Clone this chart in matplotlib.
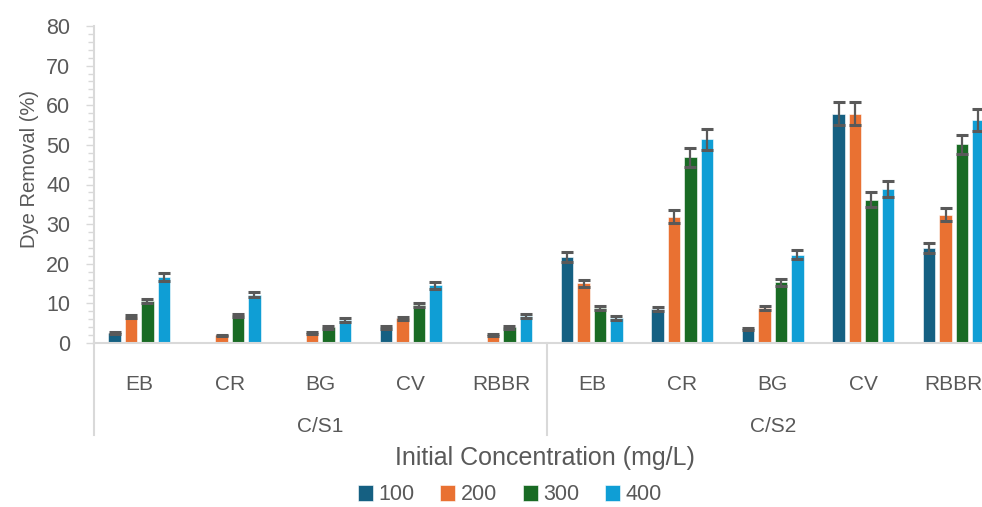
import numpy as np
import matplotlib.pyplot as plt
import matplotlib.transforms as mtransforms
from matplotlib.ticker import MultipleLocator

# dye removal (%) per dye, for the two systems
dyes = ["EB", "CR", "BG", "CV", "RBBR", "EB", "CR", "BG", "CV", "RBBR"]
systems = ["C/S1", "C/S2"]
concs = ["100", "200", "300", "400"]

val_100 = [2.5, 0.0, 0.0, 4.0, 0.0, 21.7, 8.6, 3.5, 57.9, 24.0]
val_200 = [6.6, 1.9, 2.4, 6.2, 2.1, 15.1, 31.9, 8.9, 57.8, 32.4]
val_300 = [10.6, 7.0, 4.0, 9.5, 4.0, 8.9, 46.9, 15.3, 36.1, 50.1]
val_400 = [16.7, 12.2, 5.8, 14.6, 6.7, 6.3, 51.4, 22.3, 38.8, 56.2]

err_100 = [0.3, 0.0, 0.0, 0.35, 0.0, 1.15, 0.45, 0.2, 2.85, 1.3]
err_200 = [0.4, 0.2, 0.25, 0.45, 0.25, 0.85, 1.7, 0.5, 2.9, 1.7]
err_300 = [0.6, 0.4, 0.35, 0.5, 0.4, 0.55, 2.4, 0.85, 1.9, 2.5]
err_400 = [1.0, 0.7, 0.4, 0.9, 0.5, 0.4, 2.6, 1.2, 2.0, 2.8]

colors = ["#156082", "#E97132", "#196B24", "#0F9ED5"]
grey = "#595959"
axis_grey = "#D9D9D9"
font = ["Liberation Sans", "DejaVu Sans"]

fig = plt.figure(figsize=(9.82, 5.07), dpi=100)
ax = fig.add_axes([94 / 982, (507 - 343) / 507, 905 / 982, 317 / 507])

x = np.arange(len(dyes))
pitch, width = 0.182, 0.141
series = [(val_100, err_100), (val_200, err_200), (val_300, err_300), (val_400, err_400)]
for i, (vals, errs) in enumerate(series):
    xs = x + (i - 1.5) * pitch
    v = np.array(vals)
    e = np.array(errs)
    ax.bar(xs, v, width, color=colors[i], label=concs[i], edgecolor="white",
           linewidth=0.4, zorder=2)
    m = v > 0
    ax.errorbar(xs[m], v[m], yerr=e[m], fmt="none", ecolor=grey, elinewidth=1.6,
                capsize=4.5, capthick=2.2, zorder=3)

ax.set_xlim(-0.5, 9.5)
ax.set_ylim(0, 80)
ax.yaxis.set_major_locator(MultipleLocator(10))
ax.yaxis.set_minor_locator(MultipleLocator(2))
ax.tick_params(axis="y", which="major", length=6, width=1, color=axis_grey,
               labelsize=15.5, labelcolor=grey, pad=11)
ax.tick_params(axis="y", which="minor", length=4, width=1, color=axis_grey)
for lab in ax.get_yticklabels():
    lab.set_family(font)
ax.set_xticks([])
for s in ["top", "right"]:
    ax.spines[s].set_visible(False)
for s in ["left", "bottom"]:
    ax.spines[s].set_color(axis_grey)
    ax.spines[s].set_linewidth(1.5)

ax.set_ylabel("Dye Removal (%)", fontsize=14.5, color=grey, family=font)
ax.yaxis.set_label_coords(-0.061, 0.549)

# two-level category axis
tr = mtransforms.blended_transform_factory(ax.transData, fig.transFigure)
y_low = (507 - 435) / 507
for xb in [-0.5, 4.5, 9.5]:
    ax.plot([xb, xb], [(507 - 343) / 507, y_low], color=axis_grey, lw=1.5,
            transform=tr, clip_on=False)
for xi, d in zip(x, dyes):
    ax.text(xi, (507 - 385) / 507, d, transform=tr, ha="center", va="center",
            fontsize=15, color=grey, family=font)
for k, s in enumerate(systems):
    ax.text(2 + 5 * k, (507 - 426) / 507, s, transform=tr, ha="center", va="center",
            fontsize=15, color=grey, family=font)
fig.text(545 / 982, (507 - 458) / 507, "Initial Concentration (mg/L)", ha="center",
         va="center", fontsize=18, color=grey, family=font)

leg = fig.legend(loc="center", bbox_to_anchor=(510 / 982, (507 - 495) / 507), ncol=4,
                 frameon=False, handlelength=0.7, handleheight=0.7, handletextpad=0.25,
                 columnspacing=1.2, prop={"family": font, "size": 15.5})
for t in leg.get_texts():
    t.set_color(grey)

fig.savefig("out.png", dpi=100)
